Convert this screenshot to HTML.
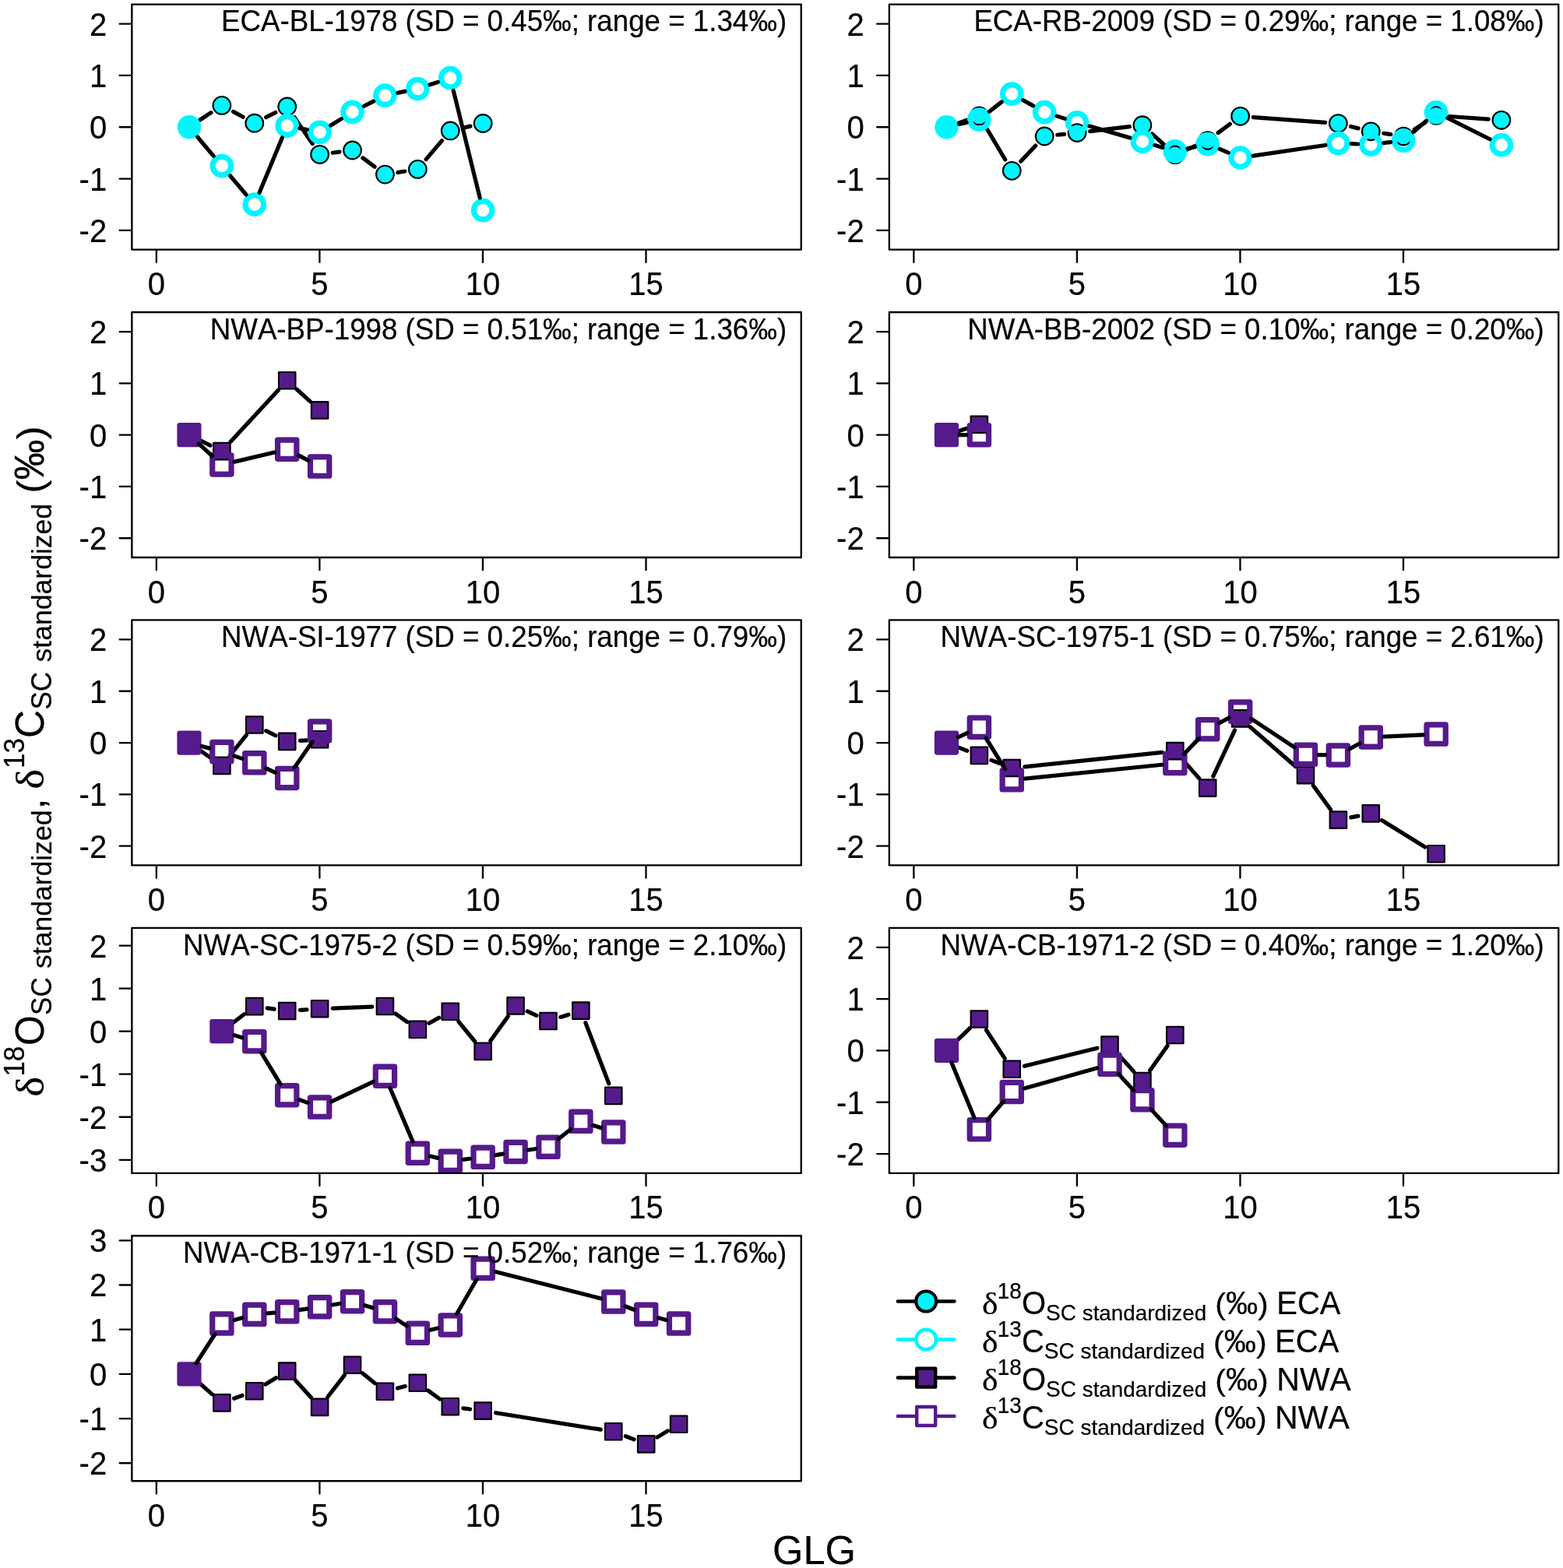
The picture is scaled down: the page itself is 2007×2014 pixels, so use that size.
<!DOCTYPE html>
<html lang="en"><head><meta charset="utf-8"><title>Standardized stable isotope profiles by GLG</title>
<style>
html,body{margin:0;padding:0;background:#fff}
svg{display:block}
text{font-family:"Liberation Sans", sans-serif;fill:#000;font-kerning:none;font-variant-ligatures:none;stroke:#000;stroke-width:.22px;stroke-linejoin:round}
.gk{font-family:"Liberation Serif", serif}
.dl{stroke:#000;stroke-width:5.2;stroke-linecap:round;fill:none}
.fr{fill:none;stroke:#000;stroke-width:2.35;stroke-linejoin:round}
.tk{fill:none;stroke:#000;stroke-width:2.3;stroke-linecap:round}
.cf{fill:#00F5FF;stroke:#000;stroke-width:2.1}
.co{fill:none;stroke:#00F5FF;stroke-width:7.2}
.sf{fill:#551A8B;stroke:#000;stroke-width:2.1;stroke-linejoin:round}
.so{fill:none;stroke:#551A8B;stroke-width:7.2;stroke-linejoin:round}
</style></head>
<body>
<svg width="2007" height="2014" viewBox="0 0 2007 2014">
<rect width="2007" height="2014" fill="#fff"/>
<g>
<path d="M256.85 154.03L270.98 144.63M299.51 143.38L312.14 150.25M341.65 150.68L353.82 144.53M378.09 150.77L401.2 184.62M427.13 196.26L435.98 195.13M465.9 202.94L481.03 214.17M510.88 221.47L519.87 220.04M547.11 204.69L567.46 180.67M594.5 164.28L603.89 162.15" class="dl"/>
<circle cx="284.87" cy="135.41" r="11.35" class="cf"/>
<circle cx="326.78" cy="158.21" r="11.35" class="cf"/>
<circle cx="368.69" cy="137" r="11.35" class="cf"/>
<circle cx="410.6" cy="198.38" r="11.35" class="cf"/>
<circle cx="452.51" cy="193.01" r="11.35" class="cf"/>
<circle cx="494.42" cy="224.1" r="11.35" class="cf"/>
<circle cx="536.33" cy="217.41" r="11.35" class="cf"/>
<circle cx="578.24" cy="167.96" r="11.35" class="cf"/>
<circle cx="620.15" cy="158.48" r="11.35" class="cf"/>
<circle cx="242.96" cy="163.25" r="15.15" fill="#00F5FF"/>
<circle cx="284.87" cy="213.1" r="11.75" class="co"/>
<circle cx="326.78" cy="262.68" r="11.75" class="co"/>
<circle cx="368.69" cy="161.53" r="11.75" class="co"/>
<circle cx="410.6" cy="169.88" r="11.75" class="co"/>
<circle cx="452.51" cy="143.83" r="11.75" class="co"/>
<circle cx="494.42" cy="122.62" r="11.75" class="co"/>
<circle cx="536.33" cy="114.06" r="11.75" class="co"/>
<circle cx="578.24" cy="100.14" r="11.75" class="co"/>
<circle cx="620.15" cy="270.17" r="11.75" class="co"/>
<path d="M253.69 176.01L274.14 200.34M295.63 225.83L316.02 249.95M333.16 247.28L362.31 176.93M385.04 164.78L394.25 166.62M424.76 161.08L438.35 152.63M467.38 136.3L479.55 130.14M510.75 119.28L520 117.4M552.15 108.81L562.42 105.4M582.23 116.33L616.16 253.99" class="dl"/>
<rect x="169.35" y="5.6" width="859.4" height="315" class="fr"/>
<path d="M168.15 30.67h-14.5M168.15 96.96h-14.5M168.15 163.25h-14.5M168.15 229.54h-14.5M168.15 295.83h-14.5M200.85 321.8v15.1M410.4 321.8v15.1M619.95 321.8v15.1M829.5 321.8v15.1" class="tk"/>
<text transform="translate(137.15 45.67) scale(1 1.04)" font-size="40" text-anchor="end">2</text>
<text transform="translate(137.15 111.96) scale(1 1.04)" font-size="40" text-anchor="end">1</text>
<text transform="translate(137.15 178.25) scale(1 1.04)" font-size="40" text-anchor="end">0</text>
<text transform="translate(137.15 244.54) scale(1 1.04)" font-size="40" text-anchor="end">-1</text>
<text transform="translate(137.15 310.83) scale(1 1.04)" font-size="40" text-anchor="end">-2</text>
<text transform="translate(200.85 379.1) scale(1 1.04)" font-size="40" text-anchor="middle">0</text>
<text transform="translate(410.4 379.1) scale(1 1.04)" font-size="40" text-anchor="middle">5</text>
<text transform="translate(619.95 379.1) scale(1 1.04)" font-size="40" text-anchor="middle">10</text>
<text transform="translate(829.5 379.1) scale(1 1.04)" font-size="40" text-anchor="middle">15</text>
<text transform="translate(1010.15 40.3) scale(1 1.04)" font-size="36.7" text-anchor="end">ECA-BL-1978 (SD = 0.45‰; range = 1.34‰)</text>
</g>
<g>
<path d="M1231.23 157.86L1241.6 154.32M1265.9 163.26L1290.75 205.01M1310.73 207.21L1329.74 187.1M1357.77 173.23L1366.52 172.3M1399.66 168.6L1450.36 162.67M1479.27 171.93L1496.48 187.52M1524.13 192.09L1535.44 187.18M1564.11 170.59L1579.28 159.29M1609.28 150.55L1701.75 157.33M1734.57 162.51L1744.1 164.85M1776.78 171.27L1785.71 172.6M1816.26 166.09L1830.05 157.3M1860.74 149.52L1911.3 153.12" class="dl"/>
<circle cx="1257.37" cy="148.93" r="11.35" class="cf"/>
<circle cx="1299.28" cy="219.33" r="11.35" class="cf"/>
<circle cx="1341.19" cy="174.98" r="11.35" class="cf"/>
<circle cx="1383.1" cy="170.54" r="11.35" class="cf"/>
<circle cx="1466.92" cy="160.73" r="11.35" class="cf"/>
<circle cx="1508.83" cy="198.71" r="11.35" class="cf"/>
<circle cx="1550.74" cy="180.55" r="11.35" class="cf"/>
<circle cx="1592.65" cy="149.33" r="11.35" class="cf"/>
<circle cx="1718.38" cy="158.54" r="11.35" class="cf"/>
<circle cx="1760.29" cy="168.82" r="11.35" class="cf"/>
<circle cx="1802.2" cy="175.05" r="11.35" class="cf"/>
<circle cx="1844.11" cy="148.34" r="11.35" class="cf"/>
<circle cx="1927.93" cy="154.3" r="11.35" class="cf"/>
<circle cx="1215.46" cy="163.25" r="15.15" fill="#00F5FF"/>
<circle cx="1257.37" cy="153.64" r="11.75" class="co"/>
<circle cx="1299.28" cy="120.56" r="11.75" class="co"/>
<circle cx="1341.19" cy="144.03" r="11.75" class="co"/>
<circle cx="1383.1" cy="157.45" r="11.75" class="co"/>
<circle cx="1466.92" cy="181.74" r="11.75" class="co"/>
<circle cx="1508.83" cy="194.47" r="11.75" class="co"/>
<circle cx="1550.74" cy="185.06" r="11.75" class="co"/>
<circle cx="1592.65" cy="202.49" r="11.75" class="co"/>
<circle cx="1718.38" cy="184.06" r="11.75" class="co"/>
<circle cx="1760.29" cy="185.59" r="11.75" class="co"/>
<circle cx="1802.2" cy="180.62" r="11.75" class="co"/>
<circle cx="1844.11" cy="144.23" r="11.75" class="co"/>
<circle cx="1927.93" cy="186.25" r="11.75" class="co"/>
<path d="M1231.71 159.52L1241.12 157.36M1270.46 143.31L1286.19 130.89M1313.83 128.7L1326.64 135.88M1357.07 149.11L1367.22 152.37M1399.11 162.09L1450.91 177.1M1482.87 186.59L1492.88 189.63M1525.09 190.82L1534.48 188.71M1566.13 191.46L1577.26 196.09M1609.14 200.07L1701.89 186.48M1735.04 184.67L1743.63 184.98M1776.84 183.63L1785.65 182.58M1814.79 169.69L1831.52 155.16M1859.01 151.7L1913.03 178.78" class="dl"/>
<rect x="1141.85" y="5.6" width="859.4" height="315" class="fr"/>
<path d="M1140.65 30.67h-14.5M1140.65 96.96h-14.5M1140.65 163.25h-14.5M1140.65 229.54h-14.5M1140.65 295.83h-14.5M1173.35 321.8v15.1M1382.9 321.8v15.1M1592.45 321.8v15.1M1802 321.8v15.1" class="tk"/>
<text transform="translate(1109.65 45.67) scale(1 1.04)" font-size="40" text-anchor="end">2</text>
<text transform="translate(1109.65 111.96) scale(1 1.04)" font-size="40" text-anchor="end">1</text>
<text transform="translate(1109.65 178.25) scale(1 1.04)" font-size="40" text-anchor="end">0</text>
<text transform="translate(1109.65 244.54) scale(1 1.04)" font-size="40" text-anchor="end">-1</text>
<text transform="translate(1109.65 310.83) scale(1 1.04)" font-size="40" text-anchor="end">-2</text>
<text transform="translate(1173.35 379.1) scale(1 1.04)" font-size="40" text-anchor="middle">0</text>
<text transform="translate(1382.9 379.1) scale(1 1.04)" font-size="40" text-anchor="middle">5</text>
<text transform="translate(1592.45 379.1) scale(1 1.04)" font-size="40" text-anchor="middle">10</text>
<text transform="translate(1802 379.1) scale(1 1.04)" font-size="40" text-anchor="middle">15</text>
<text transform="translate(1982.65 40.3) scale(1 1.04)" font-size="36.7" text-anchor="end">ECA-RB-2009 (SD = 0.29‰; range = 1.08‰)</text>
</g>
<g>
<path d="M257.87 566.1L269.96 572.14M296.18 567.35L357.38 501.03M381.02 500L398.27 515.68" class="dl"/>
<rect x="274.12" y="568.85" width="21.5" height="21.5" class="sf"/>
<rect x="357.94" y="478.03" width="21.5" height="21.5" class="sf"/>
<rect x="399.85" y="516.15" width="21.5" height="21.5" class="sf"/>
<rect x="227.36" y="543.05" width="31.2" height="31.2" rx="3.3" fill="#551A8B"/>
<rect x="272.72" y="584.81" width="24.3" height="24.3" class="so"/>
<rect x="356.54" y="565.06" width="24.3" height="24.3" class="so"/>
<rect x="398.45" y="586.94" width="24.3" height="24.3" class="so"/>
<path d="M255.26 569.9L272.57 585.72M301.1 593.14L352.46 581.03M383.47 584.92L395.82 591.37" class="dl"/>
<rect x="169.35" y="401" width="859.4" height="315" class="fr"/>
<path d="M168.15 426.07h-14.5M168.15 492.36h-14.5M168.15 558.65h-14.5M168.15 624.94h-14.5M168.15 691.23h-14.5M200.85 717.2v15.1M410.4 717.2v15.1M619.95 717.2v15.1M829.5 717.2v15.1" class="tk"/>
<text transform="translate(137.15 441.07) scale(1 1.04)" font-size="40" text-anchor="end">2</text>
<text transform="translate(137.15 507.36) scale(1 1.04)" font-size="40" text-anchor="end">1</text>
<text transform="translate(137.15 573.65) scale(1 1.04)" font-size="40" text-anchor="end">0</text>
<text transform="translate(137.15 639.94) scale(1 1.04)" font-size="40" text-anchor="end">-1</text>
<text transform="translate(137.15 706.23) scale(1 1.04)" font-size="40" text-anchor="end">-2</text>
<text transform="translate(200.85 774.5) scale(1 1.04)" font-size="40" text-anchor="middle">0</text>
<text transform="translate(410.4 774.5) scale(1 1.04)" font-size="40" text-anchor="middle">5</text>
<text transform="translate(619.95 774.5) scale(1 1.04)" font-size="40" text-anchor="middle">10</text>
<text transform="translate(829.5 774.5) scale(1 1.04)" font-size="40" text-anchor="middle">15</text>
<text transform="translate(1010.15 435.7) scale(1 1.04)" font-size="36.7" text-anchor="end">NWA-BP-1998 (SD = 0.51‰; range = 1.36‰)</text>
</g>
<g>
<path d="M1231.34 553.58L1241.49 550.33" class="dl"/>
<rect x="1246.62" y="534.51" width="21.5" height="21.5" class="sf"/>
<rect x="1199.86" y="543.05" width="31.2" height="31.2" rx="3.3" fill="#551A8B"/>
<rect x="1245.22" y="546.5" width="24.3" height="24.3" class="so"/>
<path d="M1232.13 558.65L1240.7 558.65" class="dl"/>
<rect x="1141.85" y="401" width="859.4" height="315" class="fr"/>
<path d="M1140.65 426.07h-14.5M1140.65 492.36h-14.5M1140.65 558.65h-14.5M1140.65 624.94h-14.5M1140.65 691.23h-14.5M1173.35 717.2v15.1M1382.9 717.2v15.1M1592.45 717.2v15.1M1802 717.2v15.1" class="tk"/>
<text transform="translate(1109.65 441.07) scale(1 1.04)" font-size="40" text-anchor="end">2</text>
<text transform="translate(1109.65 507.36) scale(1 1.04)" font-size="40" text-anchor="end">1</text>
<text transform="translate(1109.65 573.65) scale(1 1.04)" font-size="40" text-anchor="end">0</text>
<text transform="translate(1109.65 639.94) scale(1 1.04)" font-size="40" text-anchor="end">-1</text>
<text transform="translate(1109.65 706.23) scale(1 1.04)" font-size="40" text-anchor="end">-2</text>
<text transform="translate(1173.35 774.5) scale(1 1.04)" font-size="40" text-anchor="middle">0</text>
<text transform="translate(1382.9 774.5) scale(1 1.04)" font-size="40" text-anchor="middle">5</text>
<text transform="translate(1592.45 774.5) scale(1 1.04)" font-size="40" text-anchor="middle">10</text>
<text transform="translate(1802 774.5) scale(1 1.04)" font-size="40" text-anchor="middle">15</text>
<text transform="translate(1982.65 435.7) scale(1 1.04)" font-size="36.7" text-anchor="end">NWA-BB-2002 (SD = 0.10‰; range = 0.20‰)</text>
</g>
<g>
<path d="M256.61 963.62L271.22 973.85M295.29 970.4L316.36 944.06M341.64 938.59L353.83 944.78M385.33 951.33L393.96 950.81" class="dl"/>
<rect x="274.12" y="972.67" width="21.5" height="21.5" class="sf"/>
<rect x="316.03" y="920.3" width="21.5" height="21.5" class="sf"/>
<rect x="357.94" y="941.58" width="21.5" height="21.5" class="sf"/>
<rect x="399.85" y="939.06" width="21.5" height="21.5" class="sf"/>
<rect x="227.36" y="938.45" width="31.2" height="31.2" rx="3.3" fill="#551A8B"/>
<rect x="272.72" y="953.37" width="24.3" height="24.3" class="so"/>
<rect x="314.63" y="967.62" width="24.3" height="24.3" class="so"/>
<rect x="356.54" y="987.31" width="24.3" height="24.3" class="so"/>
<rect x="398.45" y="926.79" width="24.3" height="24.3" class="so"/>
<path d="M259.04 958.45L268.79 961.12M300.65 970.88L311 974.4M341.87 986.86L353.6 992.37M378.18 985.75L401.11 952.64" class="dl"/>
<rect x="169.35" y="796.4" width="859.4" height="315" class="fr"/>
<path d="M168.15 821.47h-14.5M168.15 887.76h-14.5M168.15 954.05h-14.5M168.15 1020.34h-14.5M168.15 1086.63h-14.5M200.85 1112.6v15.1M410.4 1112.6v15.1M619.95 1112.6v15.1M829.5 1112.6v15.1" class="tk"/>
<text transform="translate(137.15 836.47) scale(1 1.04)" font-size="40" text-anchor="end">2</text>
<text transform="translate(137.15 902.76) scale(1 1.04)" font-size="40" text-anchor="end">1</text>
<text transform="translate(137.15 969.05) scale(1 1.04)" font-size="40" text-anchor="end">0</text>
<text transform="translate(137.15 1035.34) scale(1 1.04)" font-size="40" text-anchor="end">-1</text>
<text transform="translate(137.15 1101.63) scale(1 1.04)" font-size="40" text-anchor="end">-2</text>
<text transform="translate(200.85 1169.9) scale(1 1.04)" font-size="40" text-anchor="middle">0</text>
<text transform="translate(410.4 1169.9) scale(1 1.04)" font-size="40" text-anchor="middle">5</text>
<text transform="translate(619.95 1169.9) scale(1 1.04)" font-size="40" text-anchor="middle">10</text>
<text transform="translate(829.5 1169.9) scale(1 1.04)" font-size="40" text-anchor="middle">15</text>
<text transform="translate(1010.15 831.1) scale(1 1.04)" font-size="36.7" text-anchor="end">NWA-SI-1977 (SD = 0.25‰; range = 0.79‰)</text>
</g>
<g>
<path d="M1231 960.09L1241.83 964.31M1272.92 976.36L1283.73 980.53M1315.86 984.8L1492.25 966.39M1519.86 977.15L1539.71 999.62M1557.83 997.03L1585.56 937.98M1605.24 933.82L1663.88 984.69M1686.28 1009.09L1708.57 1039.68M1734.73 1049.92L1743.94 1048.1M1774.46 1053.64L1829.94 1087.99" class="dl"/>
<rect x="1246.62" y="959.61" width="21.5" height="21.5" class="sf"/>
<rect x="1288.53" y="975.78" width="21.5" height="21.5" class="sf"/>
<rect x="1498.08" y="953.91" width="21.5" height="21.5" class="sf"/>
<rect x="1539.99" y="1001.37" width="21.5" height="21.5" class="sf"/>
<rect x="1581.9" y="912.14" width="21.5" height="21.5" class="sf"/>
<rect x="1665.72" y="984.86" width="21.5" height="21.5" class="sf"/>
<rect x="1707.63" y="1042.4" width="21.5" height="21.5" class="sf"/>
<rect x="1749.54" y="1034.11" width="21.5" height="21.5" class="sf"/>
<rect x="1833.36" y="1086.02" width="21.5" height="21.5" class="sf"/>
<rect x="1199.86" y="938.45" width="31.2" height="31.2" rx="3.3" fill="#551A8B"/>
<rect x="1245.22" y="922.01" width="24.3" height="24.3" class="so"/>
<rect x="1287.13" y="989.63" width="24.3" height="24.3" class="so"/>
<rect x="1496.68" y="968.42" width="24.3" height="24.3" class="so"/>
<rect x="1538.59" y="924.67" width="24.3" height="24.3" class="so"/>
<rect x="1580.5" y="901.86" width="24.3" height="24.3" class="so"/>
<rect x="1664.32" y="957.15" width="24.3" height="24.3" class="so"/>
<rect x="1706.23" y="957.81" width="24.3" height="24.3" class="so"/>
<rect x="1748.14" y="934.74" width="24.3" height="24.3" class="so"/>
<rect x="1831.96" y="930.96" width="24.3" height="24.3" class="so"/>
<path d="M1230.52 946.9L1242.31 941.31M1266.15 948.33L1290.5 987.61M1315.87 1000.1L1492.24 982.24M1520.36 968.53L1539.21 948.85M1565.38 928.85L1578.01 921.98M1606.57 923.19L1662.55 960.12M1693.14 969.56L1701.71 969.7M1732.98 961.92L1745.69 954.93M1776.94 946.14L1827.46 943.86" class="dl"/>
<rect x="1141.85" y="796.4" width="859.4" height="315" class="fr"/>
<path d="M1140.65 821.47h-14.5M1140.65 887.76h-14.5M1140.65 954.05h-14.5M1140.65 1020.34h-14.5M1140.65 1086.63h-14.5M1173.35 1112.6v15.1M1382.9 1112.6v15.1M1592.45 1112.6v15.1M1802 1112.6v15.1" class="tk"/>
<text transform="translate(1109.65 836.47) scale(1 1.04)" font-size="40" text-anchor="end">2</text>
<text transform="translate(1109.65 902.76) scale(1 1.04)" font-size="40" text-anchor="end">1</text>
<text transform="translate(1109.65 969.05) scale(1 1.04)" font-size="40" text-anchor="end">0</text>
<text transform="translate(1109.65 1035.34) scale(1 1.04)" font-size="40" text-anchor="end">-1</text>
<text transform="translate(1109.65 1101.63) scale(1 1.04)" font-size="40" text-anchor="end">-2</text>
<text transform="translate(1173.35 1169.9) scale(1 1.04)" font-size="40" text-anchor="middle">0</text>
<text transform="translate(1382.9 1169.9) scale(1 1.04)" font-size="40" text-anchor="middle">5</text>
<text transform="translate(1592.45 1169.9) scale(1 1.04)" font-size="40" text-anchor="middle">10</text>
<text transform="translate(1802 1169.9) scale(1 1.04)" font-size="40" text-anchor="middle">15</text>
<text transform="translate(1982.65 831.1) scale(1 1.04)" font-size="36.7" text-anchor="end">NWA-SC-1975-1 (SD = 0.75‰; range = 2.61‰)</text>
</g>
<g>
<path d="M298.11 1314.55L313.54 1302.74M343.29 1294.92L352.18 1296.17M385.33 1297.42L393.96 1296.86M427.26 1295.13L477.76 1293.1M508 1302.1L522.75 1312.6M550.94 1314.24L563.63 1307.28M588.81 1312.15L609.58 1337.49M629.86 1336.83L652.35 1305.44M677.16 1298.95L688.87 1304.42M719.85 1306.41L730 1303.17M751.85 1313.67L781.82 1391.78" class="dl"/>
<rect x="316.03" y="1281.85" width="21.5" height="21.5" class="sf"/>
<rect x="357.94" y="1287.74" width="21.5" height="21.5" class="sf"/>
<rect x="399.85" y="1285.04" width="21.5" height="21.5" class="sf"/>
<rect x="483.67" y="1281.69" width="21.5" height="21.5" class="sf"/>
<rect x="525.58" y="1311.51" width="21.5" height="21.5" class="sf"/>
<rect x="567.49" y="1288.51" width="21.5" height="21.5" class="sf"/>
<rect x="609.4" y="1339.64" width="21.5" height="21.5" class="sf"/>
<rect x="651.31" y="1281.14" width="21.5" height="21.5" class="sf"/>
<rect x="693.22" y="1300.73" width="21.5" height="21.5" class="sf"/>
<rect x="735.13" y="1287.36" width="21.5" height="21.5" class="sf"/>
<rect x="777.04" y="1396.59" width="21.5" height="21.5" class="sf"/>
<rect x="269.27" y="1309.09" width="31.2" height="31.2" rx="3.3" fill="#551A8B"/>
<rect x="314.63" y="1325.52" width="24.3" height="24.3" class="so"/>
<rect x="356.54" y="1394.53" width="24.3" height="24.3" class="so"/>
<rect x="398.45" y="1409.94" width="24.3" height="24.3" class="so"/>
<rect x="482.27" y="1370.04" width="24.3" height="24.3" class="so"/>
<rect x="524.18" y="1469.05" width="24.3" height="24.3" class="so"/>
<rect x="566.09" y="1479.12" width="24.3" height="24.3" class="so"/>
<rect x="608" y="1474.16" width="24.3" height="24.3" class="so"/>
<rect x="649.91" y="1467.28" width="24.3" height="24.3" class="so"/>
<rect x="691.82" y="1461.12" width="24.3" height="24.3" class="so"/>
<rect x="733.73" y="1428.1" width="24.3" height="24.3" class="so"/>
<rect x="775.64" y="1441.86" width="24.3" height="24.3" class="so"/>
<path d="M300.79 1329.62L310.86 1332.74M335.43 1351.92L360.04 1392.43M384.34 1412.44L394.95 1416.34M425.65 1414.93L479.37 1389.36M500.92 1397.54L529.83 1465.84M552.54 1485.09L562.03 1487.37M594.79 1489.31L603.6 1488.27M636.6 1483.61L645.61 1482.13M678.55 1477.01L687.48 1475.7M717.06 1462.95L732.79 1450.57M761.72 1445.45L771.95 1448.81" class="dl"/>
<rect x="169.35" y="1191.8" width="859.4" height="315" class="fr"/>
<path d="M168.15 1214.62h-14.5M168.15 1269.65h-14.5M168.15 1324.69h-14.5M168.15 1379.72h-14.5M168.15 1434.75h-14.5M168.15 1489.78h-14.5M200.85 1508v15.1M410.4 1508v15.1M619.95 1508v15.1M829.5 1508v15.1" class="tk"/>
<text transform="translate(137.15 1229.62) scale(1 1.04)" font-size="40" text-anchor="end">2</text>
<text transform="translate(137.15 1284.65) scale(1 1.04)" font-size="40" text-anchor="end">1</text>
<text transform="translate(137.15 1339.69) scale(1 1.04)" font-size="40" text-anchor="end">0</text>
<text transform="translate(137.15 1394.72) scale(1 1.04)" font-size="40" text-anchor="end">-1</text>
<text transform="translate(137.15 1449.75) scale(1 1.04)" font-size="40" text-anchor="end">-2</text>
<text transform="translate(137.15 1504.78) scale(1 1.04)" font-size="40" text-anchor="end">-3</text>
<text transform="translate(200.85 1565.3) scale(1 1.04)" font-size="40" text-anchor="middle">0</text>
<text transform="translate(410.4 1565.3) scale(1 1.04)" font-size="40" text-anchor="middle">5</text>
<text transform="translate(619.95 1565.3) scale(1 1.04)" font-size="40" text-anchor="middle">10</text>
<text transform="translate(829.5 1565.3) scale(1 1.04)" font-size="40" text-anchor="middle">15</text>
<text transform="translate(1010.15 1226.5) scale(1 1.04)" font-size="36.7" text-anchor="end">NWA-SC-1975-2 (SD = 0.59‰; range = 2.10‰)</text>
</g>
<g>
<path d="M1227.46 1337.88L1245.37 1320.59M1266.47 1322.98L1290.18 1359.35M1315.46 1369.3L1408.83 1346.17M1436.18 1354.53L1455.75 1376.19M1476.57 1374.97L1499.18 1343.15" class="dl"/>
<rect x="1246.62" y="1298.26" width="21.5" height="21.5" class="sf"/>
<rect x="1288.53" y="1362.56" width="21.5" height="21.5" class="sf"/>
<rect x="1414.26" y="1331.41" width="21.5" height="21.5" class="sf"/>
<rect x="1456.17" y="1377.81" width="21.5" height="21.5" class="sf"/>
<rect x="1498.08" y="1318.81" width="21.5" height="21.5" class="sf"/>
<rect x="1199.86" y="1333.85" width="31.2" height="31.2" rx="3.3" fill="#551A8B"/>
<rect x="1245.22" y="1438.72" width="24.3" height="24.3" class="so"/>
<rect x="1287.13" y="1390.33" width="24.3" height="24.3" class="so"/>
<rect x="1412.86" y="1355.2" width="24.3" height="24.3" class="so"/>
<rect x="1454.77" y="1400.6" width="24.3" height="24.3" class="so"/>
<rect x="1496.68" y="1446.01" width="24.3" height="24.3" class="so"/>
<path d="M1221.83 1364.86L1251 1435.46M1268.28 1438.27L1288.37 1415.08M1315.33 1397.99L1408.96 1371.83M1436.32 1379.6L1455.61 1400.51M1478.23 1425L1497.52 1445.91" class="dl"/>
<rect x="1141.85" y="1191.8" width="859.4" height="315" class="fr"/>
<path d="M1140.65 1216.87h-14.5M1140.65 1283.16h-14.5M1140.65 1349.45h-14.5M1140.65 1415.74h-14.5M1140.65 1482.03h-14.5M1173.35 1508v15.1M1382.9 1508v15.1M1592.45 1508v15.1M1802 1508v15.1" class="tk"/>
<text transform="translate(1109.65 1231.87) scale(1 1.04)" font-size="40" text-anchor="end">2</text>
<text transform="translate(1109.65 1298.16) scale(1 1.04)" font-size="40" text-anchor="end">1</text>
<text transform="translate(1109.65 1364.45) scale(1 1.04)" font-size="40" text-anchor="end">0</text>
<text transform="translate(1109.65 1430.74) scale(1 1.04)" font-size="40" text-anchor="end">-1</text>
<text transform="translate(1109.65 1497.03) scale(1 1.04)" font-size="40" text-anchor="end">-2</text>
<text transform="translate(1173.35 1565.3) scale(1 1.04)" font-size="40" text-anchor="middle">0</text>
<text transform="translate(1382.9 1565.3) scale(1 1.04)" font-size="40" text-anchor="middle">5</text>
<text transform="translate(1592.45 1565.3) scale(1 1.04)" font-size="40" text-anchor="middle">10</text>
<text transform="translate(1802 1565.3) scale(1 1.04)" font-size="40" text-anchor="middle">15</text>
<text transform="translate(1982.65 1226.5) scale(1 1.04)" font-size="36.7" text-anchor="end">NWA-CB-1971-2 (SD = 0.40‰; range = 1.20‰)</text>
</g>
<g>
<path d="M255.46 1775.9L272.37 1790.84M300.55 1796.2L311.1 1792.38M341 1778.02L354.47 1769.79M379.87 1773.45L399.42 1795.05M420.8 1794.23L442.31 1766.44M465.45 1763.76L481.48 1776.78M510.55 1783.06L520.2 1780.53M549.81 1786.11L564.76 1796.98M594.78 1808.88L603.61 1810.01M636.61 1814.73L771.33 1836.19M803.36 1844.76L814.13 1848.88M843.92 1846.13L857.39 1837.9" class="dl"/>
<rect x="274.12" y="1791.12" width="21.5" height="21.5" class="sf"/>
<rect x="316.03" y="1775.96" width="21.5" height="21.5" class="sf"/>
<rect x="357.94" y="1750.34" width="21.5" height="21.5" class="sf"/>
<rect x="399.85" y="1796.67" width="21.5" height="21.5" class="sf"/>
<rect x="441.76" y="1742.51" width="21.5" height="21.5" class="sf"/>
<rect x="483.67" y="1776.53" width="21.5" height="21.5" class="sf"/>
<rect x="525.58" y="1765.55" width="21.5" height="21.5" class="sf"/>
<rect x="567.49" y="1796.04" width="21.5" height="21.5" class="sf"/>
<rect x="609.4" y="1801.35" width="21.5" height="21.5" class="sf"/>
<rect x="777.04" y="1828.06" width="21.5" height="21.5" class="sf"/>
<rect x="818.95" y="1844.08" width="21.5" height="21.5" class="sf"/>
<rect x="860.86" y="1818.45" width="21.5" height="21.5" class="sf"/>
<rect x="227.36" y="1749.27" width="31.2" height="31.2" rx="3.3" fill="#551A8B"/>
<rect x="272.72" y="1687.86" width="24.3" height="24.3" class="so"/>
<rect x="314.63" y="1676.14" width="24.3" height="24.3" class="so"/>
<rect x="356.54" y="1672.65" width="24.3" height="24.3" class="so"/>
<rect x="398.45" y="1666.53" width="24.3" height="24.3" class="so"/>
<rect x="440.36" y="1659.55" width="24.3" height="24.3" class="so"/>
<rect x="482.27" y="1672.65" width="24.3" height="24.3" class="so"/>
<rect x="524.18" y="1700.1" width="24.3" height="24.3" class="so"/>
<rect x="566.09" y="1689.81" width="24.3" height="24.3" class="so"/>
<rect x="608" y="1617.18" width="24.3" height="24.3" class="so"/>
<rect x="775.64" y="1659.84" width="24.3" height="24.3" class="so"/>
<rect x="817.55" y="1676.14" width="24.3" height="24.3" class="so"/>
<rect x="859.46" y="1687.86" width="24.3" height="24.3" class="so"/>
<path d="M252.01 1750.87L275.82 1714.01M300.92 1695.52L310.73 1692.78M343.39 1686.91L352.08 1686.18M385.19 1682.39L394.1 1681.09M427.04 1675.94L436.07 1674.44M468.42 1676.68L478.51 1679.83M508.36 1693.93L522.39 1703.12M552.52 1708.28L562.05 1705.93M586.57 1687.52L611.82 1643.77M636.31 1633.44L771.63 1667.88M803.33 1678.03L814.16 1682.25M845.75 1692.78L855.56 1695.52" class="dl"/>
<rect x="169.35" y="1587.2" width="859.4" height="315" class="fr"/>
<path d="M168.15 1593.3h-14.5M168.15 1650.49h-14.5M168.15 1707.68h-14.5M168.15 1764.87h-14.5M168.15 1822.06h-14.5M168.15 1879.25h-14.5M200.85 1903.4v15.1M410.4 1903.4v15.1M619.95 1903.4v15.1M829.5 1903.4v15.1" class="tk"/>
<text transform="translate(137.15 1608.3) scale(1 1.04)" font-size="40" text-anchor="end">3</text>
<text transform="translate(137.15 1665.49) scale(1 1.04)" font-size="40" text-anchor="end">2</text>
<text transform="translate(137.15 1722.68) scale(1 1.04)" font-size="40" text-anchor="end">1</text>
<text transform="translate(137.15 1779.87) scale(1 1.04)" font-size="40" text-anchor="end">0</text>
<text transform="translate(137.15 1837.06) scale(1 1.04)" font-size="40" text-anchor="end">-1</text>
<text transform="translate(137.15 1894.25) scale(1 1.04)" font-size="40" text-anchor="end">-2</text>
<text transform="translate(200.85 1960.7) scale(1 1.04)" font-size="40" text-anchor="middle">0</text>
<text transform="translate(410.4 1960.7) scale(1 1.04)" font-size="40" text-anchor="middle">5</text>
<text transform="translate(619.95 1960.7) scale(1 1.04)" font-size="40" text-anchor="middle">10</text>
<text transform="translate(829.5 1960.7) scale(1 1.04)" font-size="40" text-anchor="middle">15</text>
<text transform="translate(1010.15 1621.9) scale(1 1.04)" font-size="36.7" text-anchor="end">NWA-CB-1971-1 (SD = 0.52‰; range = 1.76‰)</text>
</g>
<text transform="translate(1045.5 2009) scale(1.012 1.04)" font-size="50" text-anchor="middle">GLG</text>
<g>
<path d="M1152.9 1671.5H1225.4" stroke="#000" stroke-width="4.6" stroke-linecap="round" fill="none"/>
<circle cx="1189.2" cy="1671.5" r="13" fill="#00F5FF" stroke="#000" stroke-width="4.2"/>
<text transform="translate(1261 1687.8) scale(1.09 1)" font-size="40" class="gk">δ</text><text transform="translate(1280.8 1667.9) scale(1 1.04)" font-size="28">18</text><text transform="translate(1311.9 1687.8) scale(1 1.04)" font-size="40">O</text><text transform="translate(1343 1695.8) scale(1 1.04)" font-size="28">SC</text><text transform="translate(1389.7 1695.8) scale(0.995 1)" font-size="28">standardized</text><text transform="translate(1560.2 1687.8) scale(1.03 0.975)" font-size="40">(</text><text transform="translate(1573.92 1687.8) scale(1.03 1.055)" font-size="40">‰</text><text transform="translate(1615.12 1687.8) scale(1.03 0.975)" font-size="40">)</text><text transform="translate(1639.3 1687.8) scale(1 1.04)" font-size="40">ECA</text>
<path d="M1152.9 1720.5H1225.4" stroke="#00F5FF" stroke-width="4.6" stroke-linecap="round" fill="none"/>
<circle cx="1189.2" cy="1720.5" r="12.8" fill="#fff" stroke="#00F5FF" stroke-width="4.6"/>
<text transform="translate(1261 1736.8) scale(1.09 1)" font-size="40" class="gk">δ</text><text transform="translate(1280.8 1716.9) scale(1 1.04)" font-size="28">13</text><text transform="translate(1311.9 1736.8) scale(1 1.04)" font-size="40">C</text><text transform="translate(1340.8 1744.8) scale(1 1.04)" font-size="28">SC</text><text transform="translate(1387.5 1744.8) scale(0.995 1)" font-size="28">standardized</text><text transform="translate(1558 1736.8) scale(1.03 0.975)" font-size="40">(</text><text transform="translate(1571.72 1736.8) scale(1.03 1.055)" font-size="40">‰</text><text transform="translate(1612.92 1736.8) scale(1.03 0.975)" font-size="40">)</text><text transform="translate(1637.1 1736.8) scale(1 1.04)" font-size="40">ECA</text>
<path d="M1152.9 1769.6H1225.4" stroke="#000" stroke-width="4.6" stroke-linecap="round" fill="none"/>
<rect x="1177.2" y="1757.6" width="24" height="24" fill="#551A8B" stroke="#000" stroke-width="4.4" stroke-linejoin="round"/>
<text transform="translate(1261 1785.9) scale(1.09 1)" font-size="40" class="gk">δ</text><text transform="translate(1280.8 1766) scale(1 1.04)" font-size="28">18</text><text transform="translate(1311.9 1785.9) scale(1 1.04)" font-size="40">O</text><text transform="translate(1343 1793.9) scale(1 1.04)" font-size="28">SC</text><text transform="translate(1389.7 1793.9) scale(0.995 1)" font-size="28">standardized</text><text transform="translate(1560.2 1785.9) scale(1.03 0.975)" font-size="40">(</text><text transform="translate(1573.92 1785.9) scale(1.03 1.055)" font-size="40">‰</text><text transform="translate(1615.12 1785.9) scale(1.03 0.975)" font-size="40">)</text><text transform="translate(1639.3 1785.9) scale(1.025 1.04)" font-size="40">NWA</text>
<path d="M1152.9 1819H1225.4" stroke="#551A8B" stroke-width="4.6" stroke-linecap="round" fill="none"/>
<rect x="1177.2" y="1807" width="24" height="24" fill="#fff" stroke="#551A8B" stroke-width="4.4" stroke-linejoin="round"/>
<text transform="translate(1261 1835.3) scale(1.09 1)" font-size="40" class="gk">δ</text><text transform="translate(1280.8 1815.4) scale(1 1.04)" font-size="28">13</text><text transform="translate(1311.9 1835.3) scale(1 1.04)" font-size="40">C</text><text transform="translate(1340.8 1843.3) scale(1 1.04)" font-size="28">SC</text><text transform="translate(1387.5 1843.3) scale(0.995 1)" font-size="28">standardized</text><text transform="translate(1558 1835.3) scale(1.03 0.975)" font-size="40">(</text><text transform="translate(1571.72 1835.3) scale(1.03 1.055)" font-size="40">‰</text><text transform="translate(1612.92 1835.3) scale(1.03 0.975)" font-size="40">)</text><text transform="translate(1637.1 1835.3) scale(1.025 1.04)" font-size="40">NWA</text>
</g>
<g><text transform="translate(56.4 1408.4) rotate(-90) scale(1.09 1)" font-size="50" class="gk">δ</text><text transform="translate(30.8 1382.6) rotate(-90) scale(1 1.04)" font-size="35">18</text><text transform="translate(56.4 1343) rotate(-90) scale(1 1.04)" font-size="50">O</text><text transform="translate(65.6 1303.9) rotate(-90) scale(1 1.04)" font-size="35">SC</text><text transform="translate(65.6 1244) rotate(-90) scale(1.016 1)" font-size="35">standardized</text><text transform="translate(57.2 1039.5) rotate(-90)" font-size="50">,</text><text transform="translate(56.4 1013.5) rotate(-90) scale(1.09 1)" font-size="50" class="gk">δ</text><text transform="translate(30.8 987) rotate(-90) scale(1 1.04)" font-size="35">13</text><text transform="translate(56.4 947.9) rotate(-90) scale(1 1.04)" font-size="50">C</text><text transform="translate(65.6 911.6) rotate(-90) scale(1 1.04)" font-size="35">SC</text><text transform="translate(65.6 850.4) rotate(-90) scale(1.016 1)" font-size="35">standardized</text><text transform="translate(56.4 633.8) rotate(-90) scale(1.04 0.975)" font-size="50">(</text><text transform="translate(56.4 616.5) rotate(-90) scale(1.04 1.055)" font-size="50">‰</text><text transform="translate(56.4 564.5) rotate(-90) scale(1.04 0.975)" font-size="50">)</text></g>
</svg>
</body></html>
